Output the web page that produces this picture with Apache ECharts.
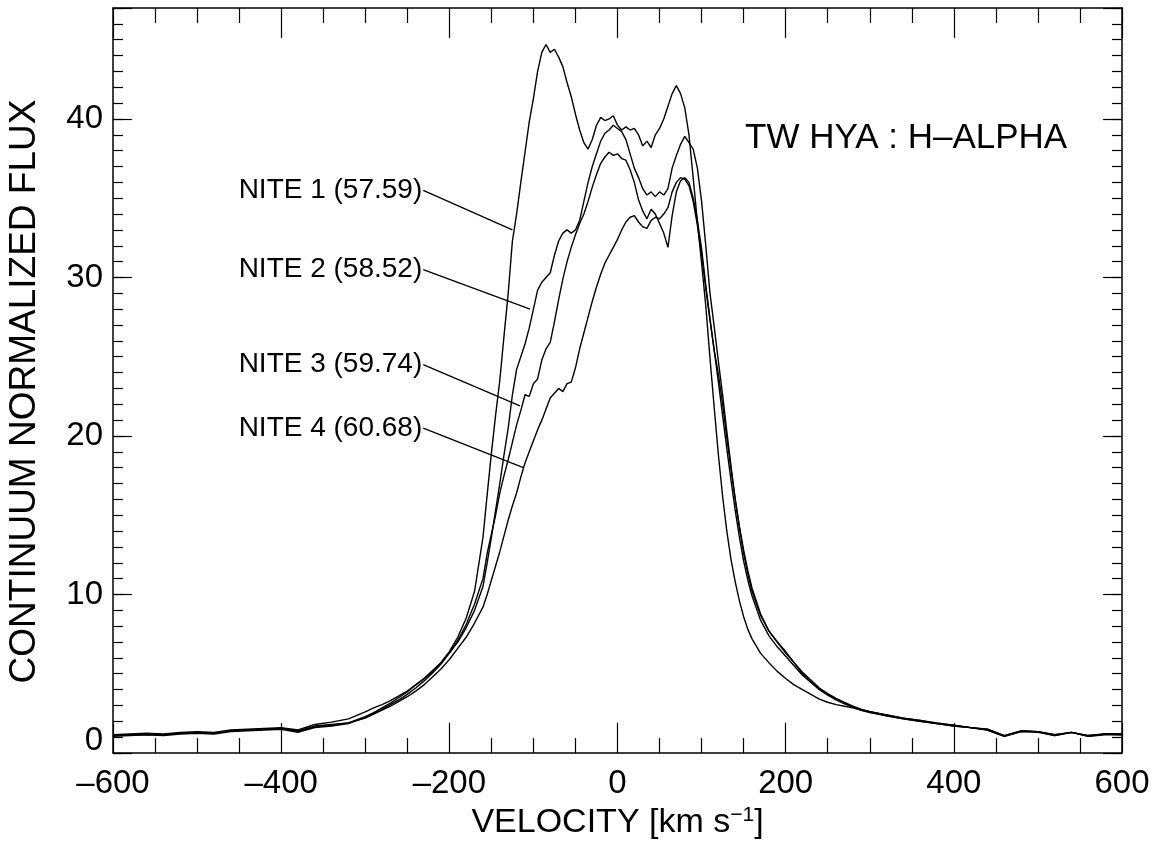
<!DOCTYPE html>
<html>
<head>
<meta charset="utf-8">
<script src="https://cdn.jsdelivr.net/npm/echarts@6/dist/echarts.min.js"></script>
<style>
html, body { margin: 0; padding: 0; background: #fff; }
#chart { width: 1158px; height: 846px; }
</style>
</head>
<body>
<div id="chart"></div>
<script>
// velocity grid (km/s), coarser in the wings
const velocity = [
  -600, -580, -560, -540, -520, -500, -480, -460, -440, -420, -400, -380, -360, -340, -320,
  -300, -290, -280, -270, -260, -250, -240, -230, -220, -210, -200, -190, -180, -170, -160,
  -155, -150, -145, -140, -135, -130, -125, -120, -115, -110, -105,
  -100, -95, -90, -85, -80, -75, -70, -65, -60, -55, -50,
  -45, -40, -35, -30, -25, -20, -15, -10, -5, 0, 5,
  10, 15, 20, 25, 30, 35, 40, 45, 50, 55, 60,
  65, 70, 75, 80, 85, 90, 95, 100, 105, 110, 115,
  120, 125, 130, 135, 140, 145, 150, 155,
  160, 170, 180, 190, 200, 210, 220, 230, 240, 250, 260, 270, 280, 290, 300,
  320, 340, 360, 380, 400, 420, 440, 460, 480, 500, 520, 540, 560, 580, 600
];

const nite1 = [
  1.1, 1.15, 1.2, 1.15, 1.25, 1.3, 1.25, 1.4, 1.45, 1.5, 1.55, 1.4, 1.7, 1.8, 1.9,
  2.3, 2.55, 2.85, 3.15, 3.5, 3.85, 4.3, 4.7, 5.1, 5.7, 6.4, 7.3, 8.5, 10.2, 13.6,
  16.3, 18.9, 21.3, 23.5, 26.3, 29.0, 32.3, 34.0, 36.0, 37.9, 39.8,
  41.3, 43.0, 44.2, 44.7, 44.2, 44.4, 43.9, 43.3, 42.3, 41.4, 40.3,
  39.3, 38.5, 38.1, 38.7, 39.6, 40.1, 39.9, 40.0, 40.2, 39.6, 39.3,
  39.5, 39.3, 39.4, 39.0, 38.3, 38.6, 38.2, 39.0, 39.4, 40.0, 40.8,
  41.6, 42.1, 41.6, 40.7, 39.0, 36.3, 33.5, 30.9, 28.2, 24.9, 21.8,
  18.8, 16.2, 14.0, 12.2, 10.8, 9.6, 8.6, 7.8,
  7.2, 6.3, 5.7, 5.15, 4.7, 4.3, 4.0, 3.7, 3.4, 3.2, 3.05, 2.95, 2.85, 2.7, 2.6,
  2.35, 2.15, 2.0, 1.85, 1.7, 1.6, 1.45, 1.05, 1.35, 1.35, 1.1, 1.3, 1.05, 1.2, 1.15
];

const nite2 = [
  1.15, 1.2, 1.25, 1.2, 1.3, 1.35, 1.3, 1.45, 1.5, 1.55, 1.6, 1.45, 1.8, 1.95, 2.15,
  2.6, 2.85, 3.05, 3.3, 3.6, 3.9, 4.3, 4.7, 5.2, 5.7, 6.3, 7.0, 7.9, 9.0, 10.5,
  12.0, 13.6, 15.3, 17.0, 18.8, 20.5, 22.6, 24.2, 25.0, 25.8, 26.8,
  28.0, 29.2, 29.7, 30.0, 30.3, 31.4, 32.3, 32.8, 33.0, 32.8, 33.0,
  33.6, 34.8, 36.0, 37.0, 37.8, 38.6, 39.1, 39.3, 39.6, 39.4, 39.2,
  38.7, 37.8, 36.9, 36.3, 35.6, 35.2, 35.4, 35.1, 35.4, 35.2, 35.6,
  36.9, 37.7, 38.4, 38.9, 38.5, 38.1, 36.9, 34.8, 32.0, 29.0, 26.9,
  24.7, 22.6, 20.3, 18.1, 16.0, 14.2, 12.6, 11.3,
  10.2, 8.7, 7.7, 7.0, 6.4, 5.7, 5.0, 4.5, 4.05, 3.7, 3.4, 3.15, 2.9, 2.75, 2.6,
  2.4, 2.2, 2.05, 1.9, 1.75, 1.6, 1.5, 1.1, 1.4, 1.35, 1.15, 1.3, 1.1, 1.2, 1.2
];

const nite3 = [
  1.05, 1.1, 1.15, 1.1, 1.2, 1.25, 1.2, 1.35, 1.4, 1.45, 1.5, 1.3, 1.6, 1.7, 1.85,
  2.25, 2.5, 2.75, 3.05, 3.35, 3.7, 4.1, 4.55, 5.05, 5.6, 6.3, 7.1, 8.1, 9.4, 11.0,
  12.6, 13.8, 15.0, 16.4, 17.5, 18.5, 19.6, 20.7, 21.6, 22.6, 22.5,
  23.3, 23.6, 24.8, 25.5, 25.9, 27.2, 28.6, 29.9, 31.0, 31.9, 32.7,
  33.4, 34.0, 34.8, 35.7, 36.5, 37.2, 37.6, 37.9, 37.7, 37.8, 37.5,
  37.4, 36.8, 36.0, 34.9, 34.2, 33.7, 34.3, 34.0, 33.4, 32.8, 31.9,
  33.9, 35.4, 36.1, 36.3, 36.0, 35.0, 33.6, 31.8, 29.5, 27.4, 25.4,
  23.4, 21.3, 19.2, 17.2, 15.3, 13.6, 12.1, 10.9,
  9.9, 8.4, 7.4, 6.7, 6.1, 5.5, 4.9, 4.45, 4.0, 3.65, 3.35, 3.1, 2.9, 2.7, 2.55,
  2.35, 2.15, 2.0, 1.85, 1.7, 1.6, 1.45, 1.05, 1.35, 1.3, 1.1, 1.3, 1.05, 1.15, 1.15
];

const nite4 = [
  1.1, 1.15, 1.15, 1.15, 1.25, 1.3, 1.25, 1.4, 1.45, 1.5, 1.55, 1.35, 1.65, 1.75, 1.9,
  2.2, 2.45, 2.7, 2.95, 3.25, 3.55, 3.9, 4.3, 4.8, 5.3, 5.9, 6.6, 7.3, 8.2, 9.2,
  10.0, 10.9, 11.8, 12.7, 13.7, 14.7, 15.6, 16.4, 17.4, 18.3, 19.0,
  19.7, 20.4, 21.0, 21.7, 22.4, 22.7, 23.0, 22.8, 23.3, 23.4, 24.3,
  25.5, 26.5, 27.5, 28.5, 29.4, 30.2, 30.9, 31.4, 31.9, 32.4, 33.0,
  33.5, 33.8, 33.9, 33.5, 33.2, 33.1, 33.6, 33.8, 33.7, 34.0, 34.4,
  35.4, 36.0, 36.3, 36.2, 35.8, 34.8, 33.3, 31.5, 29.3, 27.3, 25.4,
  23.9, 22.0, 19.9, 17.9, 16.0, 14.3, 12.8, 11.5,
  10.4, 8.8, 7.7, 7.0, 6.3, 5.7, 5.1, 4.6, 4.1, 3.75, 3.45, 3.2, 2.95, 2.75, 2.6,
  2.4, 2.2, 2.05, 1.85, 1.75, 1.6, 1.5, 1.1, 1.4, 1.35, 1.15, 1.3, 1.1, 1.2, 1.2
];

const niteLabels = ['NITE 1 (57.59)', 'NITE 2 (58.52)', 'NITE 3 (59.74)', 'NITE 4 (60.68)'];
const xTicks = [-600, -400, -200, 0, 200, 400, 600];
const yTicks = [0, 10, 20, 30, 40];

const FONT = 'Liberation Sans, Arial, sans-serif';
const BLACK = '#000';

// leader lines from each label to its curve, in data coordinates
const leaders = [
  [[-231, 35.5], [-125, 33.0]],
  [[-231, 30.5], [-104, 28.0]],
  [[-231, 24.5], [-116, 21.9]],
  [[-231, 20.5], [-112, 18.0]]
];

const chart = echarts.init(document.getElementById('chart'), null, { renderer: 'canvas' });

const xBase = (position, showLabel) => ({
  type: 'value',
  position,
  min: -600,
  max: 600,
  interval: 200,
  axisLine: { show: true, onZero: false, lineStyle: { color: BLACK, width: 1.5 } },
  axisTick: { show: true, inside: true, length: 30, lineStyle: { color: BLACK, width: 1.2 } },
  minorTick: { show: true, splitNumber: 4, length: 15, lineStyle: { color: BLACK, width: 1.2 } },
  splitLine: { show: false },
  minorSplitLine: { show: false },
  axisLabel: {
    show: showLabel,
    color: BLACK,
    fontSize: 33,
    fontFamily: FONT,
    margin: 14,
    formatter: (v) => (xTicks.includes(v) ? (v < 0 ? '\u2013' + Math.abs(v) : String(v)) : '')
  }
});

const yBase = (position, interval, length, showLine) => ({
  type: 'value',
  position,
  min: 0,
  max: 47,
  interval,
  axisLine: { show: showLine, onZero: false, lineStyle: { color: BLACK, width: 1.5 } },
  axisTick: { show: true, inside: true, length, lineStyle: { color: BLACK, width: 1.2 } },
  splitLine: { show: false },
  axisLabel: { show: false }
});

const leftMajor = yBase('left', 10, 19, true);
leftMajor.axisLabel = {
  show: true,
  color: BLACK,
  fontSize: 33,
  fontFamily: FONT,
  margin: 10,
  formatter: (v) => {
    if (!yTicks.includes(v)) return '';
    return v === 0 ? '{z|0}' : String(v);
  },
  rich: { z: { fontSize: 33, fontFamily: FONT, color: BLACK, padding: [0, 0, 24, 0] } }
};
leftMajor.name = 'CONTINUUM NORMALIZED FLUX';
leftMajor.nameLocation = 'middle';
leftMajor.nameGap = 70;
leftMajor.nameTextStyle = { color: BLACK, fontSize: 37, fontFamily: FONT, padding: [0, 22, 0, 0] };

const bottomAxis = xBase('bottom', true);
bottomAxis.name = 'VELOCITY [km s{sup|\u22121}]';
bottomAxis.nameLocation = 'middle';
bottomAxis.nameGap = 50;
bottomAxis.nameTextStyle = {
  color: BLACK,
  fontSize: 34,
  fontFamily: FONT,
  rich: { sup: { fontSize: 21, fontFamily: FONT, color: BLACK, verticalAlign: 'top', padding: [0, 0, 14, 0] } }
};

const profiles = [nite1, nite2, nite3, nite4];

const series = profiles.map((flux, k) => ({
  name: niteLabels[k],
  type: 'line',
  xAxisIndex: 0,
  yAxisIndex: 0,
  showSymbol: false,
  symbol: 'none',
  smooth: false,
  lineStyle: { color: BLACK, width: 1.4 },
  data: velocity.map((v, i) => [v, flux[i]]),
  z: 3
}));

leaders.forEach((seg) => {
  series.push({
    type: 'line',
    xAxisIndex: 0,
    yAxisIndex: 0,
    symbol: 'none',
    lineStyle: { color: BLACK, width: 1.3 },
    data: seg,
    silent: true
  });
});

series.push({
  type: 'scatter',
  xAxisIndex: 0,
  yAxisIndex: 0,
  symbolSize: 0,
  silent: true,
  itemStyle: { opacity: 1, color: BLACK },
  data: leaders.map((seg, k) => ({ value: seg[0], name: niteLabels[k] })),
  label: {
    show: true,
    position: 'left',
    distance: 1,
    color: BLACK,
    opacity: 1,
    fontSize: 28,
    fontFamily: FONT,
    formatter: (p) => p.name
  }
});

chart.setOption({
  animation: false,
  backgroundColor: '#fff',
  grid: { left: 113, right: 36, top: 8, bottom: 93, containLabel: false, outerBoundsMode: 'none' },
  xAxis: [bottomAxis, xBase('top', false)],
  yAxis: [
    leftMajor,
    yBase('left', 1, 10, false),
    yBase('right', 10, 19, true),
    yBase('right', 1, 10, false)
  ],
  graphic: [{
    type: 'text',
    x: 745,
    y: 138,
    style: {
      text: 'TW HYA : H\u2013ALPHA',
      fontSize: 35,
      fontFamily: FONT,
      fill: BLACK,
      align: 'left',
      verticalAlign: 'middle'
    }
  }],
  series
});
</script>
</body>
</html>
